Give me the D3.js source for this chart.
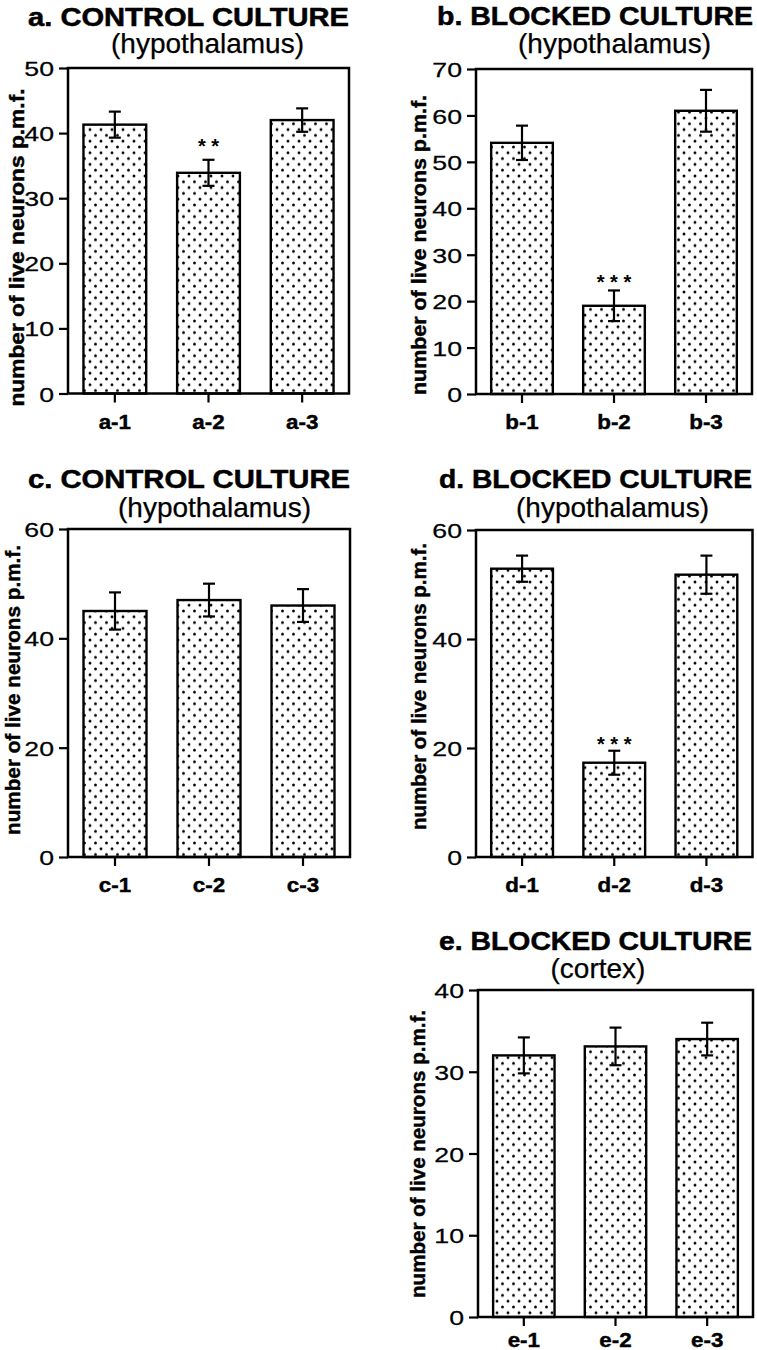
<!DOCTYPE html>
<html><head><meta charset="utf-8">
<script src="https://cdn.jsdelivr.net/npm/d3@7"></script>
<style>
html,body{margin:0;padding:0;background:#fff;}
svg{display:block;}
text{font-family:"Liberation Sans",Arial,Helvetica,sans-serif;fill:#000;}
</style></head>
<body>
<div id="chart"></div>
<script>
// ---------- data ----------
const titles = ["a. CONTROL CULTURE", "b. BLOCKED CULTURE", "c. CONTROL CULTURE", "d. BLOCKED CULTURE", "e. BLOCKED CULTURE"];
const subtitles = ["(hypothalamus)", "(hypothalamus)", "(hypothalamus)", "(hypothalamus)", "(cortex)"];
const yLabel = "number of live neurons p.m.f.";

const categoriesA = ["a-1", "a-2", "a-3"];
const categoriesB = ["b-1", "b-2", "b-3"];
const categoriesC = ["c-1", "c-2", "c-3"];
const categoriesD = ["d-1", "d-2", "d-3"];
const categoriesE = ["e-1", "e-2", "e-3"];

const valuesA = [41.3, 33.9, 42.0];
const valuesB = [54.1, 19.0, 61.0];
const valuesC = [45.0, 47.0, 46.0];
const valuesD = [52.9, 17.3, 51.8];
const valuesE = [32.0, 33.1, 34.0];

const errorsA = [2.0, 2.0, 1.8];
const errorsB = [3.7, 3.3, 4.5];
const errorsC = [3.4, 3.0, 3.0];
const errorsD = [2.4, 2.2, 3.5];
const errorsE = [2.2, 2.3, 2.0];

const significanceA = ["", "* *", ""];
const significanceB = ["", "* * *", ""];
const significanceC = ["", "", ""];
const significanceD = ["", "* * *", ""];
const significanceE = ["", "", ""];

const ticksA = [0, 10, 20, 30, 40, 50];
const ticksB = [0, 10, 20, 30, 40, 50, 60, 70];
const ticksC = [0, 20, 40, 60];
const ticksD = [0, 20, 40, 60];
const ticksE = [0, 10, 20, 30, 40];

// ---------- layout (pixel geometry only) ----------
const layout = [
  {x0:68,  x1:349,   y0:68,  y1:393.5, tx:28,  tw:321, ty:25.5, sx:207.5, sy:53,  lx:24,  lc:247.5, lw:318, ls:21, cy:35, starC:18},
  {x0:476, x1:752,   y0:69,  y1:394,   tx:437, tw:316, ty:25,   sx:614.5, sy:53,  lx:426, lc:245,   lw:300, ls:21, cy:35, starC:13},
  {x0:68,  x1:350,   y0:529, y1:857,   tx:28,  tw:322, ty:488.3,sx:214.5, sy:516.7,lx:20, lc:690,   lw:290, ls:21, cy:35, starC:12},
  {x0:476, x1:752.5, y0:530, y1:857,   tx:439, tw:313, ty:488.3,sx:612.5, sy:516.7,lx:426, lc:686.5, lw:287, ls:21, cy:35, starC:11},
  {x0:478, x1:753,   y0:990, y1:1317,  tx:439, tw:313, ty:950,  sx:598,   sy:978, lx:425,lc:1154,  lw:288, ls:21, cy:30, starC:12}
];

const panels = [
  {cats:categoriesA, vals:valuesA, errs:errorsA, sig:significanceA, ticks:ticksA},
  {cats:categoriesB, vals:valuesB, errs:errorsB, sig:significanceB, ticks:ticksB},
  {cats:categoriesC, vals:valuesC, errs:errorsC, sig:significanceC, ticks:ticksC},
  {cats:categoriesD, vals:valuesD, errs:errorsD, sig:significanceD, ticks:ticksD},
  {cats:categoriesE, vals:valuesE, errs:errorsE, sig:significanceE, ticks:ticksE}
];

const W = 757, H = 1350;
const svg = d3.select("#chart").append("svg").attr("width", W).attr("height", H);

const defs = svg.append("defs");
const pat = defs.append("pattern").attr("id","dots").attr("patternUnits","userSpaceOnUse")
  .attr("width", 11).attr("height", 11.6);
pat.append("rect").attr("width",11).attr("height",11.6).attr("fill","#fff");
pat.append("circle").attr("cx",2).attr("cy",2).attr("r",1.45).attr("fill","#000");
pat.append("circle").attr("cx",7.5).attr("cy",7.8).attr("r",1.45).attr("fill","#000");

const starSize = 20;

panels.forEach((p, i) => {
  const L = layout[i];
  const g = svg.append("g");
  const x = d3.scaleBand().domain(p.cats).range([L.x0, L.x1]).paddingInner(0.33).paddingOuter(0.165);
  const y = d3.scaleLinear().domain([0, d3.max(p.ticks)]).range([L.y1, L.y0]);

  // title
  g.append("text").attr("x", L.tx).attr("y", L.ty)
    .attr("font-size", 25.5).attr("font-weight", "bold")
    .attr("stroke", "#000").attr("stroke-width", 0.5)
    .attr("textLength", L.tw).attr("lengthAdjust", "spacingAndGlyphs")
    .text(titles[i]);
  // subtitle
  g.append("text").attr("x", L.sx).attr("y", L.sy)
    .attr("font-size", 28).attr("text-anchor", "middle")
    .attr("stroke", "#000").attr("stroke-width", 0.25)
    .text(subtitles[i]);
  // y label
  g.append("text")
    .attr("transform", `translate(${L.lx},${L.lc}) rotate(-90)`)
    .attr("x", -L.lw/2).attr("y", 0)
    .attr("font-size", L.ls).attr("font-weight", "bold")
    .attr("stroke", "#000").attr("stroke-width", 0.45)
    .attr("textLength", L.lw).attr("lengthAdjust", "spacingAndGlyphs")
    .text(yLabel);

  // bars
  g.selectAll("rect.bar").data(p.vals).join("rect").attr("class","bar")
    .attr("x", (d, j) => x(p.cats[j]))
    .attr("width", x.bandwidth())
    .attr("y", d => y(d))
    .attr("height", d => y(0) - y(d))
    .attr("fill", "url(#dots)").attr("stroke", "#000").attr("stroke-width", 2.4);

  // error bars
  const cap = 6;
  const cx = j => x(p.cats[j]) + x.bandwidth()/2;
  const eb = g.selectAll("g.err").data(p.vals).join("g").attr("class","err")
    .attr("stroke", "#000").attr("stroke-width", 2.2);
  eb.append("line")
    .attr("x1", (d,j) => cx(j)).attr("x2", (d,j) => cx(j))
    .attr("y1", (d,j) => y(d + p.errs[j])).attr("y2", (d,j) => y(d - p.errs[j]));
  eb.append("line")
    .attr("x1", (d,j) => cx(j) - cap).attr("x2", (d,j) => cx(j) + cap)
    .attr("y1", (d,j) => y(d + p.errs[j])).attr("y2", (d,j) => y(d + p.errs[j]));
  eb.append("line")
    .attr("x1", (d,j) => cx(j) - cap).attr("x2", (d,j) => cx(j) + cap)
    .attr("y1", (d,j) => y(d - p.errs[j])).attr("y2", (d,j) => y(d - p.errs[j]));

  // significance stars
  g.selectAll("text.sig").data(p.sig).join("text").attr("class","sig")
    .attr("x", (d,j) => cx(j))
    .attr("y", (d,j) => y(p.vals[j] + p.errs[j]) - L.starC + 0.57 * starSize)
    .attr("text-anchor", "middle").attr("font-size", starSize).attr("font-weight", "bold")
    .text(d => d);

  // frame
  g.append("rect").attr("x", L.x0).attr("y", L.y0)
    .attr("width", L.x1 - L.x0).attr("height", L.y1 - L.y0)
    .attr("fill", "none").attr("stroke", "#000").attr("stroke-width", 2.5);

  // left axis
  const ya = g.append("g").attr("transform", `translate(${L.x0},0)`)
    .call(d3.axisLeft(y).tickValues(p.ticks).tickSize(9).tickSizeOuter(0).tickFormat(d3.format("d")));
  ya.select(".domain").remove();
  ya.selectAll(".tick line").attr("stroke", "#000").attr("stroke-width", 2.2);
  ya.selectAll(".tick text")
    .attr("x", 0).attr("dy", "0.36em")
    .attr("transform", "translate(-14,0) scale(1.27,1)")
    .attr("font-size", 21).attr("font-family", null).attr("fill", "#000")
    .attr("stroke", "#000").attr("stroke-width", 0.25);

  // bottom axis
  const xa = g.append("g").attr("transform", `translate(0,${L.y1})`)
    .call(d3.axisBottom(x).tickSize(9).tickSizeOuter(0));
  xa.select(".domain").remove();
  xa.selectAll(".tick line").attr("stroke", "#000").attr("stroke-width", 2.2);
  xa.selectAll(".tick text")
    .attr("y", 0).attr("dy", null)
    .attr("transform", `translate(0,${L.cy}) scale(1.12,1)`)
    .attr("font-size", 20).attr("font-weight", "bold").attr("font-family", null).attr("fill", "#000")
    .attr("stroke", "#000").attr("stroke-width", 0.4);
});
</script>
</body></html>
